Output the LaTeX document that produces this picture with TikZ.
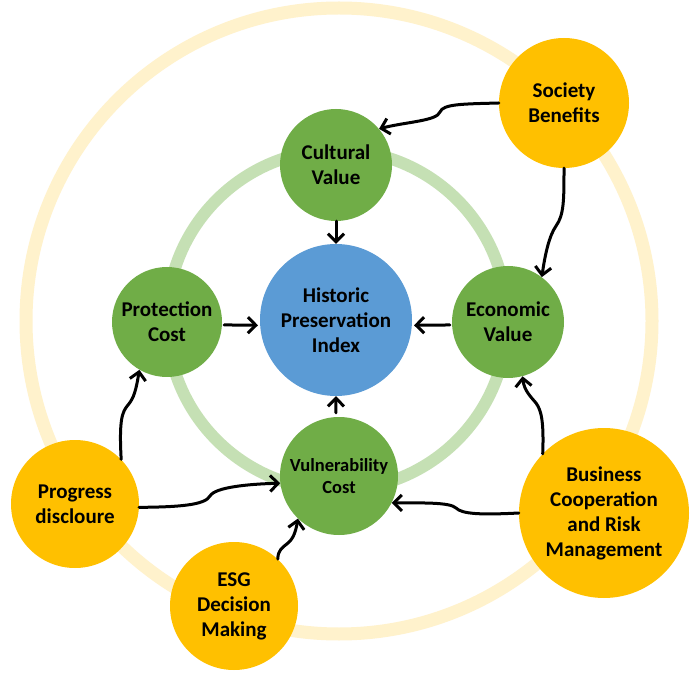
\documentclass[tikz,border=0pt]{standalone}
\usepackage{fontspec}
\setmainfont{Carlito}
\usetikzlibrary{arrows.meta}
\definecolor{ringyellow}{HTML}{FFF2CC}
\definecolor{ringgreen}{HTML}{C5E0B4}
\definecolor{nodegreen}{HTML}{70AD47}
\definecolor{nodeblue}{HTML}{5B9BD5}
\definecolor{nodeorange}{HTML}{FFC000}
\tikzset{
  bubble/.style={circle, inner sep=0pt, align=center, font=\bfseries\fontsize{21}{25}\selectfont, text=black},
  greenbub/.style={bubble, fill=nodegreen},
  orangebub/.style={bubble, fill=nodeorange},
  bluebub/.style={bubble, fill=nodeblue},
  conn/.style={line width=3pt, black, -{Straight Barb[length=8pt, width=16pt, line width=3pt]}, line cap=round},
  ring/.style={line width=13pt}
}
\begin{document}
\begin{tikzpicture}[x=1pt, y=-1pt]
\useasboundingbox (0,0) rectangle (691,676);
\fill[white] (0,0) rectangle (691,676);
% rings
\draw[ring, ringyellow] (339,321) circle[radius=313];
\draw[ring, ringgreen, line width=12pt] (337,320) circle[radius=170];
% central node
\node[bluebub, minimum size=152pt] (hpi) at (336,320) {Historic\\Preservation\\Index};
% green nodes
\node[greenbub, minimum size=112pt] (cv) at (336,165) {Cultural\\Value};
\node[greenbub, minimum size=110pt] (pc) at (167,322) {Protection\\Cost};
\node[greenbub, minimum size=112pt] (ev) at (508,322) {Economic\\Value};
\node[greenbub, minimum size=118pt, font=\bfseries\fontsize{18.5}{22}\selectfont] (vc) at (339,476) {Vulnerability\\Cost};
% orange nodes
\node[orangebub, minimum size=130pt] (sb) at (564,103) {Society\\Benefits};
\node[orangebub, minimum size=128pt] (pd) at (75,504) {Progress\\discloure};
\node[orangebub, minimum size=128pt] (esg) at (234,606) {ESG\\Decision\\Making};
\node[orangebub, minimum size=170pt] (bc) at (604,513) {Business\\Cooperation\\and Risk\\Management};
% straight arrows to the centre
\draw[conn] (cv.south) -- (hpi.north);
\draw[conn, shorten <=2pt, shorten >=2pt] (pc.-3) -- (hpi.184);
\draw[conn, shorten <=2pt, shorten >=2pt] (ev.183) -- (hpi.-4);
\draw[conn, shorten <=4pt] (vc.93) -- (hpi.south);
% curved connectors
\draw[conn] (sb.west) .. controls (462,104) and (443,104) .. (440,112)
            .. controls (437,121) and (405,122) .. (cv.40);
\draw[conn] (sb.south) .. controls (564,200) and (564,215) .. (556,226)
            .. controls (549,236) and (545,255) .. (ev.53);
\draw[conn] (pd.44) .. controls (119,420) and (122,412) .. (128,405)
            .. controls (134,398) and (136,390) .. (pc.240);
\draw[conn] (pd.-3) .. controls (180,507) and (205,505) .. (210,496)
            .. controls (215,487) and (250,484) .. (vc.187);
\draw[conn] (esg.47) .. controls (278,550) and (282,548) .. (288,543)
            .. controls (294,538) and (296,530) .. (vc.226);
\draw[conn] (bc.west) .. controls (480,515) and (462,514) .. (456,508)
            .. controls (450,502) and (420,503) .. (vc.-27);
\draw[conn] (bc.136) .. controls (544,420) and (541,410) .. (536,403)
            .. controls (530,396) and (524,390) .. (ev.-75);
\end{tikzpicture}
\end{document}
